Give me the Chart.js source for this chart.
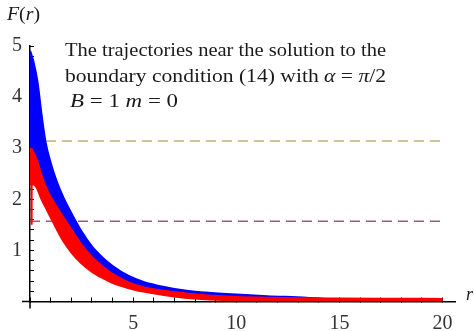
<!DOCTYPE html>
<html>
<head>
<meta charset="utf-8">
<script src="https://cdn.jsdelivr.net/npm/chart.js@4/dist/chart.umd.min.js"></script>
<style>
  html, body { margin: 0; padding: 0; background: #fff; }
  #chart { display: block; }
</style>
</head>
<body>
<canvas id="chart" width="474" height="331"></canvas>
<script>
const rGrid = [0, 0.15, 0.35, 0.55, 0.75, 1.0, 1.3, 1.6, 2.0, 2.5, 3.0, 3.5, 4.0, 4.75, 5.5, 6.5, 7.5, 8.5, 10, 11.5, 13.4, 15, 17, 20];

// blue bundle of trajectories (upper / lower edge)
const blueUpper = [4.9, 4.7, 4.3, 3.65, 3.1, 2.7, 2.33, 2.04, 1.72, 1.36, 1.07, 0.86, 0.69, 0.5, 0.38, 0.28, 0.21, 0.17, 0.13, 0.1, 0.07, 0.03, 0.03, 0.03];
const blueLower = [2.3, 2.3, 2.22, 2.02, 1.86, 1.66, 1.42, 1.2, 0.97, 0.75, 0.59, 0.47, 0.37, 0.27, 0.2, 0.13, 0.08, 0.05, 0.03, 0.02, 0.02, 0.02, 0.02, 0.02];

// red bundle of trajectories (upper / lower edge)
const redUpper = [3.0, 2.93, 2.75, 2.48, 2.26, 2.05, 1.85, 1.66, 1.41, 1.11, 0.87, 0.69, 0.54, 0.38, 0.28, 0.21, 0.16, 0.12, 0.09, 0.075, 0.065, 0.06, 0.055, 0.05];
const redLower = [2.3, 2.3, 2.22, 2.02, 1.86, 1.66, 1.42, 1.2, 0.97, 0.75, 0.59, 0.47, 0.37, 0.27, 0.2, 0.13, 0.08, 0.05, 0.03, 0.02, 0.02, 0.02, 0.02, 0.02];

// red trajectories starting on the axis
const redAxisR = [0.08, 0.08];
const redAxisF = [1.5, 3.0];

// dashed reference levels (pi and pi/2)
const levelR = [0, 20];
const levelPi = [Math.PI, Math.PI];
const levelHalfPi = [Math.PI / 2, Math.PI / 2];

const xTickLabels = [5, 10, 15, 20];
const yTickLabels = [1, 2, 3, 4, 5];

const noteLines = [
  [["The trajectories near the solution to the", false]],
  [["boundary condition (14) with ", false], ["\u03b1", true], [" = ", false], ["\u03c0", true], ["/2", false]],
  [["B", true], [" = 1 ", false], ["m", true], [" = 0", false]],
];

const toPoints = (xs, ys) => xs.map((x, i) => ({ x: x, y: ys[i] }));

const SERIF = "'Liberation Serif', 'DejaVu Serif', serif";

const drawSegments = (ctx, segs, x, y, size, targetWidth) => {
  let total = 0;
  segs.forEach(([t, it]) => {
    ctx.font = `${it ? "italic " : ""}${size}px ${SERIF}`;
    total += ctx.measureText(t).width;
  });
  const sx = targetWidth ? targetWidth / total : 1;
  ctx.save();
  ctx.translate(x, y);
  ctx.scale(sx, 1);
  let cx = 0;
  segs.forEach(([t, it]) => {
    ctx.font = `${it ? "italic " : ""}${size}px ${SERIF}`;
    ctx.fillText(t, cx, 0);
    cx += ctx.measureText(t).width;
  });
  ctx.restore();
};

const textPlugin = {
  id: "textPlugin",
  afterDraw(chart) {
    const ctx = chart.ctx;
    const { x, y } = chart.scales;
    const x0 = x.getPixelForValue(0);
    const y0 = y.getPixelForValue(0);

    // small overhang of both axes past the origin
    ctx.save();
    ctx.strokeStyle = "#000";
    ctx.lineWidth = 1.5;
    ctx.beginPath();
    ctx.moveTo(x0 - 8, y0);
    ctx.lineTo(x0, y0);
    ctx.moveTo(x0, y0);
    ctx.lineTo(x0, y0 + 7);
    ctx.stroke();

    ctx.fillStyle = "#1a1a1a";
    ctx.textBaseline = "alphabetic";
    ctx.textAlign = "left";
    drawSegments(ctx, noteLines[0], 65, 56, 19, 321);
    drawSegments(ctx, noteLines[1], 65, 82, 19, 321);
    drawSegments(ctx, noteLines[2], 70, 107, 19, 108);
    drawSegments(ctx, [["F", true], ["(", false], ["r", true], [")", false]], 7, 20, 18, 33);
    drawSegments(ctx, [["r", true]], 466, 300, 18);
    ctx.restore();
  },
};

const isInt = (v) => Math.abs(v - Math.round(v)) < 1e-6;

new Chart(document.getElementById("chart"), {
  type: "line",
  data: {
    datasets: [
      {
        data: toPoints(redAxisR, redAxisF),
        borderColor: "#ff0000",
        borderWidth: 2,
        pointRadius: 0,
        fill: false,
      },
      {
        data: toPoints(rGrid, redUpper),
        borderColor: "#ff0000",
        backgroundColor: "#ff0000",
        borderWidth: 2,
        pointRadius: 0,
        cubicInterpolationMode: "monotone",
        fill: "+1",
      },
      {
        data: toPoints(rGrid, redLower),
        borderColor: "#ff0000",
        borderWidth: 2.5,
        pointRadius: 0,
        cubicInterpolationMode: "monotone",
        fill: false,
      },
      {
        data: toPoints(rGrid, blueUpper),
        borderColor: "#0000ff",
        backgroundColor: "#0000ff",
        borderWidth: 2.5,
        pointRadius: 0,
        cubicInterpolationMode: "monotone",
        fill: "+1",
      },
      {
        data: toPoints(rGrid, blueLower),
        borderColor: "#0000ff",
        borderWidth: 1,
        pointRadius: 0,
        cubicInterpolationMode: "monotone",
        fill: false,
      },
      {
        data: toPoints(levelR, levelPi),
        borderColor: "#bfb36a",
        borderWidth: 1.6,
        borderDash: [10, 6],
        pointRadius: 0,
        fill: false,
      },
      {
        data: toPoints(levelR, levelHalfPi),
        borderColor: "#a0587e",
        borderWidth: 1.6,
        borderDash: [10, 6],
        pointRadius: 0,
        fill: false,
      },
    ],
  },
  options: {
    responsive: false,
    animation: false,
    layout: {
      padding: { top: 46, right: 19, left: 0, bottom: 0 },
    },
    scales: {
      x: {
        type: "linear",
        min: 0,
        max: 20.6,
        afterBuildTicks: (scale) => {
          const ticks = [];
          for (let i = 0; i <= 20; i++) ticks.push({ value: i });
          scale.ticks = ticks;
        },
        afterFit: (scale) => {
          scale.height = 29.5;
        },
        border: { color: "#000", width: 1.5 },
        grid: {
          drawOnChartArea: false,
          tickLength: -4,
          color: "#000",
          lineWidth: 1,
        },
        ticks: {
          autoSkip: false,
          maxRotation: 0,
          padding: 14,
          color: "#333",
          font: { size: 20, family: SERIF },
          callback: (v) => (isInt(v) && xTickLabels.includes(Math.round(v)) ? String(Math.round(v)) : ""),
        },
      },
      y: {
        type: "linear",
        min: 0,
        max: 5,
        afterBuildTicks: (scale) => {
          const ticks = [];
          for (let i = 0; i <= 25; i++) ticks.push({ value: i / 5 });
          scale.ticks = ticks;
        },
        afterFit: (scale) => {
          scale.width = 30;
        },
        border: { color: "#000", width: 1.5 },
        grid: {
          drawOnChartArea: false,
          tickLength: -4,
          color: "#000",
          lineWidth: 1,
        },
        ticks: {
          autoSkip: false,
          padding: 12,
          color: "#333",
          font: { size: 20, family: SERIF },
          callback: (v) => (isInt(v) && yTickLabels.includes(Math.round(v)) ? String(Math.round(v)) : ""),
        },
      },
    },
    plugins: {
      legend: { display: false },
      tooltip: { enabled: false },
    },
  },
  plugins: [textPlugin],
});
</script>
</body>
</html>
